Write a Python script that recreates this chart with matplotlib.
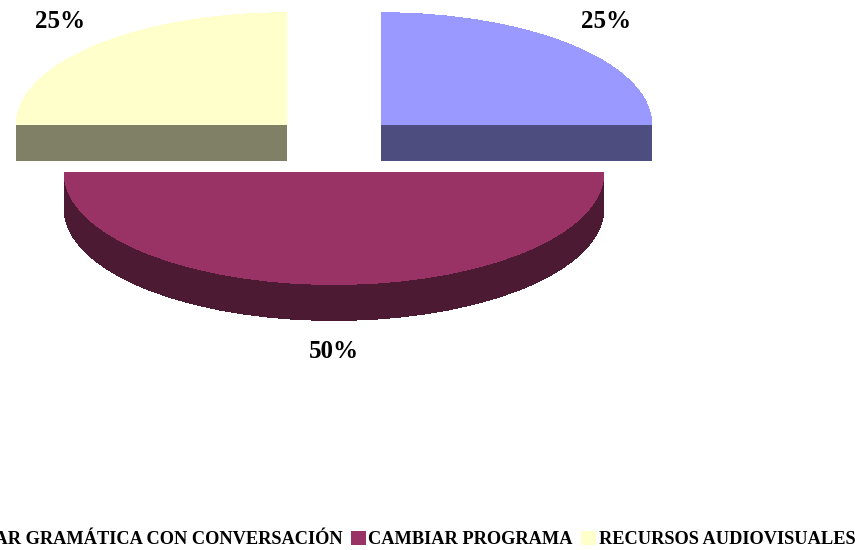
import matplotlib
matplotlib.use("Agg")
import matplotlib.pyplot as plt
import numpy as np
from matplotlib.colors import to_rgb
from matplotlib.patches import Patch

categories = ["COMBINAR GRAMÁTICA CON CONVERSACIÓN", "CAMBIAR PROGRAMA", "RECURSOS AUDIOVISUALES"]
values = [25, 50, 25]
colors = ["#9999FF", "#993366", "#FFFFCC"]

plt.rcParams["font.family"] = ["Liberation Serif", "DejaVu Serif"]
plt.rcParams["font.weight"] = "bold"

W, H = 855, 550
RX, RY = 270, 112      # pie radius on screen, px
CX, CY = 334, 144.5    # pie centre on screen, px
DEPTH = 36 / RY
EXPLODE = [0.25, 0.25, 0.25]

fig = plt.figure(figsize=(W / 100, H / 100), dpi=100, facecolor="white")
ax = fig.add_axes([0, 0, 1, 1])

# extrusion: stack of dark copies going up to the top face
dark = [tuple(c * 0.5 for c in to_rgb(col)) for col in colors]
for off in np.linspace(DEPTH, 0.005, 40):
    ax.pie(values, colors=dark, explode=EXPLODE, startangle=90, counterclock=False,
           center=(0, -off), wedgeprops={"linewidth": 0, "antialiased": False})

# top face
ax.pie(values, colors=colors, explode=EXPLODE, startangle=90, counterclock=False,
       wedgeprops={"linewidth": 0, "antialiased": False})

ax.set_aspect("auto")
ax.set_xlim(-CX / RX, (W - CX) / RX)
ax.set_ylim(-(H - CY) / RY, CY / RY)
ax.axis("off")

# percent labels
label_pos = [(606.5, 21), (334, 351), (60.5, 21)]
total = sum(values)
for v, (px, py) in zip(values, label_pos):
    ax.text((px - CX) / RX, -(py - CY) / RY, f"{v / total:.0%}", fontsize=18,
            ha="center", va="center", color="black")

handles = [Patch(facecolor=c, edgecolor="none") for c in colors]
fig.legend(handles, categories, loc="lower right", bbox_to_anchor=(868 / W, -0.02), ncol=3,
           frameon=False, fontsize=13.2, handlelength=0.8, handleheight=0.8,
           handletextpad=0.15, columnspacing=0.45, borderpad=0.2)

fig.savefig("out.png", dpi=100)
plt.close(fig)
